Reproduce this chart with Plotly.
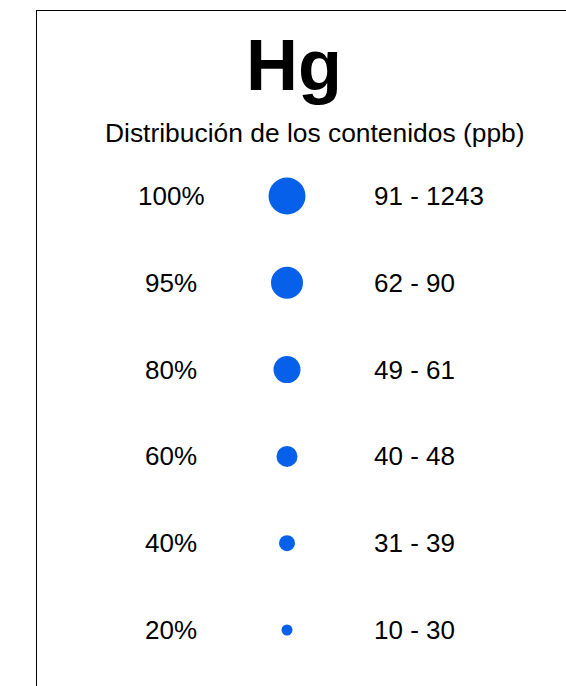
import plotly.graph_objects as go

# ---- data ----
element = "Hg"
subtitle = "Distribución de los contenidos (ppb)"
percentiles = ["100%", "95%", "80%", "60%", "40%", "20%"]
ranges = ["91 - 1243", "62 - 90", "49 - 61", "40 - 48", "31 - 39", "10 - 30"]

# ---- style ----
dot_sizes = [37, 32, 27, 21, 16, 11]
dot_color = "#0660E9"
FONT = "Liberation Sans, Arial, sans-serif"
W, H = 566, 686
ML, MT = 37, 11
OFF = 0  # body margin removed below
PW = W - ML
PH = H - MT
ROW_PX = 86.8
ROW0_PX = 196

rows = list(range(len(percentiles)))

fig = go.Figure()
fig.add_trace(go.Scatter(
    x=[0] * len(rows), y=rows, mode="markers",
    marker=dict(size=dot_sizes, color=dot_color, opacity=1, line=dict(width=0)),
    opacity=1, hoverinfo="skip", showlegend=False,
))


def px(xp):
    return (xp - OFF - ML) / PW


annotations = []
for r, p, rg in zip(rows, percentiles, ranges):
    annotations.append(dict(x=px(171), xref="paper", y=r, yref="y",
                            text=p, showarrow=False, xanchor="center", yanchor="middle",
                            font=dict(family=FONT, size=26, color="black")))
    annotations.append(dict(x=px(372), xref="paper", y=r, yref="y",
                            text=rg, showarrow=False, xanchor="left", yanchor="middle",
                            font=dict(family=FONT, size=26, color="black")))

annotations.append(dict(x=px(294), xref="paper", y=-1.515, yref="y",
                        text="<b>%s</b>" % element, showarrow=False,
                        xanchor="center", yanchor="middle",
                        font=dict(family=FONT, size=72, color="black")))
annotations.append(dict(x=px(315), xref="paper", y=-0.73, yref="y",
                        text=subtitle, showarrow=False,
                        xanchor="center", yanchor="middle",
                        font=dict(family=FONT, size=26.4, color="black")))

left_units = (287 - OFF - ML) / PW
y_top = -(ROW0_PX - OFF - MT) / ROW_PX
y_bot = y_top + PH / ROW_PX
fig.update_layout(
    width=W, height=H,
    margin=dict(l=ML, r=0, t=MT, b=0, pad=0),
    paper_bgcolor="white", plot_bgcolor="white",
    annotations=annotations,
    hovermode=False,
    xaxis=dict(range=[-left_units, 1 - left_units], showgrid=False, zeroline=False,
               showticklabels=False, ticks="", side="top", showline=True,
               linecolor="black", linewidth=1, fixedrange=True),
    yaxis=dict(range=[y_bot, y_top], showgrid=False,
               zeroline=False, showticklabels=False, ticks="", showline=True,
               linecolor="black", linewidth=1, fixedrange=True),
)

fig.write_html(
    "out.html",
    config={"displayModeBar": False, "staticPlot": True},
    post_script="document.body.style.margin='0';"
                "document.documentElement.style.overflow='hidden';"
                "document.body.style.overflow='hidden';",
)
